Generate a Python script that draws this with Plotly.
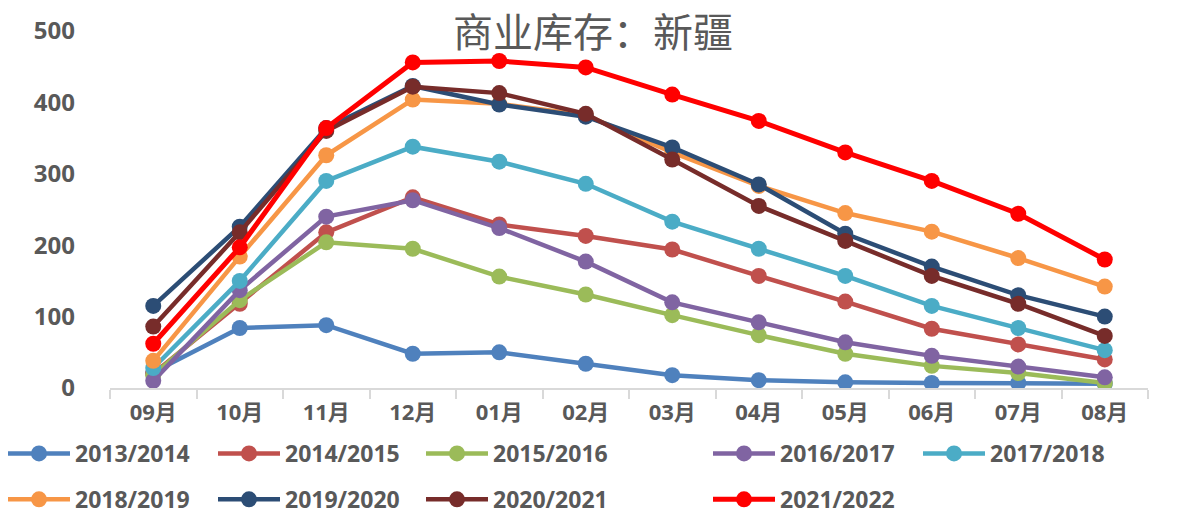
import plotly.graph_objects as go

# Data

months = ["09月", "10月", "11月", "12月", "01月", "02月", "03月", "04月", "05月", "06月", "07月", "08月"]

s2013 = [22, 84, 88, 48, 50, 34, 18, 11, 8, 7, 7, 6]
s2014 = [20, 118, 218, 267, 229, 213, 194, 157, 121, 83, 61, 40]
s2015 = [18, 123, 204, 195, 156, 131, 102, 74, 48, 31, 21, 7]
s2016 = [10, 137, 240, 263, 224, 177, 120, 92, 64, 45, 30, 15]
s2017 = [28, 150, 290, 338, 317, 286, 233, 195, 157, 115, 84, 53]
s2018 = [38, 184, 326, 404, 398, 382, 330, 283, 245, 219, 182, 142]
s2019 = [115, 226, 364, 423, 397, 380, 337, 285, 216, 170, 130, 100]
s2020 = [86, 218, 360, 422, 413, 384, 320, 255, 206, 157, 118, 73]
s2021 = [62, 197, 364, 456, 458, 449, 411, 374, 330, 290, 244, 180]

series = [
    ("2013/2014", s2013, "#4F81BD"),
    ("2014/2015", s2014, "#C0504D"),
    ("2015/2016", s2015, "#9BBB59"),
    ("2016/2017", s2016, "#8064A2"),
    ("2017/2018", s2017, "#4BACC6"),
    ("2018/2019", s2018, "#F79646"),
    ("2019/2020", s2019, "#2C4D75"),
    ("2020/2021", s2020, "#772C2A"),
    ("2021/2022", s2021, "#FF0000"),
]

# legend layout: five columns, two rows (Excel style)
legend_names = ["legend", "legend2", "legend3", "legend4", "legend5"]
legend_px = [3, 213, 421, 708, 918]

fig = go.Figure()

for i, (name, vals, color) in enumerate(series):
    fig.add_trace(
        go.Scatter(
            x=months,
            y=vals,
            name=name,
            mode="lines+markers",
            line=dict(color=color, width=5 if name == "2021/2022" else 4.5),
            marker=dict(color=color, size=16),
            legend=legend_names[i % 5],
            legendgroup=name,
        )
    )

text_grey = "#595959"
W, H = 1186, 514
ml, mr, mt, mb = 110, 38, 31, 126
pw = W - ml - mr
ph = H - mt - mb

legend_common = dict(
    orientation="v",
    xanchor="left",
    yanchor="top",
    bgcolor="rgba(0,0,0,0)",
    font=dict(family="Open Sans", size=23, color=text_grey, weight="bold"),
    itemwidth=62,
    tracegroupgap=13,
)

layout_legends = {}
for name, px in zip(legend_names, legend_px):
    layout_legends[name] = dict(
        legend_common,
        x=(px - ml) / pw,
        y=(H - mb - 432) / ph,
    )

fig.update_layout(
    width=W,
    height=H,
    margin=dict(l=ml, r=mr, t=mt, b=mb, autoexpand=False),
    plot_bgcolor="white",
    paper_bgcolor="white",
    title=dict(
        text="商业库存：新疆",
        x=0.5,
        xref="container",
        xanchor="center",
        y=1 - 33 / H,
        yref="container",
        yanchor="middle",
        font=dict(family="Noto Sans CJK SC", size=40, color=text_grey),
    ),
    xaxis=dict(
        type="category",
        range=[-0.5, 11.5],
        showgrid=False,
        showline=True,
        linecolor="#D9D9D9",
        linewidth=1.5,
        ticks="outside",
        tickson="boundaries",
        ticklen=9,
        tickcolor="#D9D9D9",
        tickwidth=1.5,
        tickfont=dict(family="Open Sans, Noto Sans CJK SC", size=22, color=text_grey, weight="bold"),
        ticklabelstandoff=4,
    ),
    yaxis=dict(
        range=[0, 500],
        tickvals=[0, 100, 200, 300, 400, 500],
        showgrid=False,
        zeroline=False,
        showline=False,
        tickfont=dict(family="Open Sans", size=24, color=text_grey, weight="bold"),
        ticklabelstandoff=34,
    ),
    **layout_legends,
)

fig.write_html(
    "out.html",
    config={"displayModeBar": False},
    post_script="document.body.style.margin='0px';",
)
